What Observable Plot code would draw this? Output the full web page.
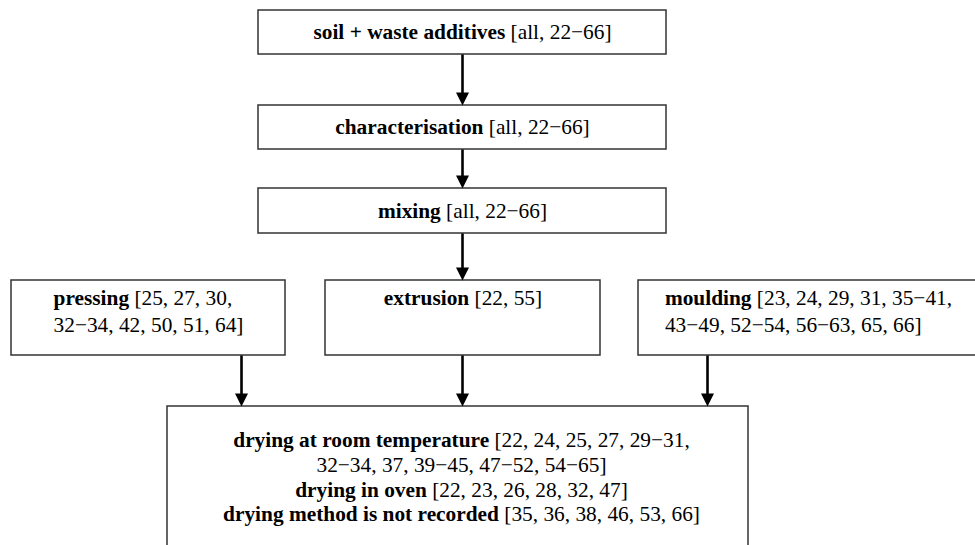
<!DOCTYPE html>
<html>
<head>
<meta charset="utf-8">
<script src="https://cdn.jsdelivr.net/npm/d3@7"></script>
<script src="https://cdn.jsdelivr.net/npm/@observablehq/plot@0.6"></script>
<style>
  html, body { margin: 0; padding: 0; background: #fff; }
  #chart { width: 975px; height: 545px; overflow: hidden; }
</style>
</head>
<body>
<div id="chart"></div>
<script>
// ---- content (data) ----
const stages = ["soil + waste additives", "characterisation", "mixing"];
const stageRefs = ["all, 22−66", "all, 22−66", "all, 22−66"];
const techniques = ["pressing", "extrusion", "moulding"];
// "\n" marks where the reference wraps the line
const techniqueRefs = [
  "25, 27, 30,\n32−34, 42, 50, 51, 64",
  "22, 55",
  "23, 24, 29, 31, 35−41,\n43−49, 52−54, 56−63, 65, 66"
];
const dryingMethods = ["drying at room temperature", "drying in oven", "drying method is not recorded"];
const dryingRefs = [
  "22, 24, 25, 27, 29−31,\n32−34, 37, 39−45, 47−52, 54−65",
  "22, 23, 26, 28, 32, 47",
  "35, 36, 38, 46, 53, 66"
];

// ---- layout (pixel coordinate frame of the drawing) ----
const W = 975, H = 545;
const FONT = "Liberation Serif", FS = 21.35;
const boxLayout = [
  {x1: 258, x2: 666, y1: 10,  y2: 54},
  {x1: 258, x2: 666, y1: 105, y2: 149},
  {x1: 258, x2: 666, y1: 188, y2: 233},
  {x1: 11,  x2: 285, y1: 280, y2: 355},
  {x1: 325, x2: 600, y1: 280, y2: 355},
  {x1: 638, x2: 978, y1: 280, y2: 355},
  {x1: 167, x2: 748, y1: 406, y2: 560}
];
const dryingTextCenter = 461;
// edges: [source box, target box, arrow x]
const edges = [[0, 1, 462], [1, 2, 462], [2, 4, 462], [3, 6, 241], [4, 6, 462], [5, 6, 707]];
const HEAD = 13;

// ---- text measurement ----
const ctx = document.createElement("canvas").getContext("2d");
function tw(t, bold) { ctx.font = `${bold ? "bold " : ""}${FS}px "${FONT}"`; return ctx.measureText(t).width; }

// build text lines per box: array of {bold, normal}
function lines(label, refs) {
  const full = refs.split("\n");
  return full.map((s, i) => ({
    bold: i === 0 ? label : "",
    normal: (i === 0 ? " [" : "") + s + (i === full.length - 1 ? "]" : "")
  }));
}

const segs = [];
function place(lineList, mode, cx, top, lh) {
  const widths = lineList.map(l => (l.bold ? tw(l.bold, true) : 0) + tw(l.normal, false));
  const blockW = Math.max(...widths);
  lineList.forEach((l, i) => {
    const y = top + i * lh;
    let x0 = mode === "left" ? cx - blockW / 2 : cx - widths[i] / 2;
    if (l.bold) segs.push({x: x0, y, text: l.bold, bold: true});
    segs.push({x: x0 + (l.bold ? tw(l.bold, true) : 0), y, text: l.normal, bold: false});
  });
}
stages.forEach((s, i) => {
  const b = boxLayout[i];
  place(lines(s, stageRefs[i]), "center", (b.x1 + b.x2) / 2, (b.y1 + b.y2) / 2, 0);
});
techniques.forEach((s, i) => {
  const b = boxLayout[3 + i];
  place(lines(s, techniqueRefs[i]), "left", (b.x1 + b.x2) / 2, b.y1 + 18, 27);
});
{
  const b = boxLayout[6];
  const all = dryingMethods.flatMap((m, i) => lines(m, dryingRefs[i]));
  place(all, "center", dryingTextCenter, b.y1 + 34, 24.7);
}

const links = edges.map(([s, t, x]) => ({x, y1: boxLayout[s].y2, y2: boxLayout[t].y1 - HEAD + 1}));
const heads = edges.map(([s, t, x]) => ({x, y: boxLayout[t].y1}));
const downTriangle = {
  draw(context) {
    context.moveTo(0, 0);
    context.lineTo(-6.5, -HEAD);
    context.lineTo(6.5, -HEAD);
    context.closePath();
  }
};

const chart = Plot.plot({
  width: W, height: H, margin: 0,
  x: {domain: [0, W], range: [0, W], axis: null},
  y: {domain: [0, H], range: [0, H], axis: null},
  style: {fontFamily: FONT, fontSize: FS + "px", background: "#fff", color: "#000"},
  marks: [
    Plot.rect(boxLayout, {x1: "x1", x2: "x2", y1: "y1", y2: "y2", fill: "#fff", stroke: "#333", strokeWidth: 1.5}),
    Plot.link(links, {x1: "x", x2: "x", y1: "y1", y2: "y2", stroke: "#000", strokeWidth: 2.6}),
    Plot.dot(heads, {x: "x", y: "y", symbol: downTriangle, fill: "#000", stroke: "none", r: 5}),
    Plot.text(segs.filter(d => d.bold), {x: "x", y: "y", text: "text", textAnchor: "start", fontWeight: "bold", fontFamily: FONT, fontSize: FS, fill: "#000"}),
    Plot.text(segs.filter(d => !d.bold), {x: "x", y: "y", text: "text", textAnchor: "start", fontFamily: FONT, fontSize: FS, fill: "#000"})
  ]
});
document.getElementById("chart").appendChild(chart);
</script>
</body>
</html>
